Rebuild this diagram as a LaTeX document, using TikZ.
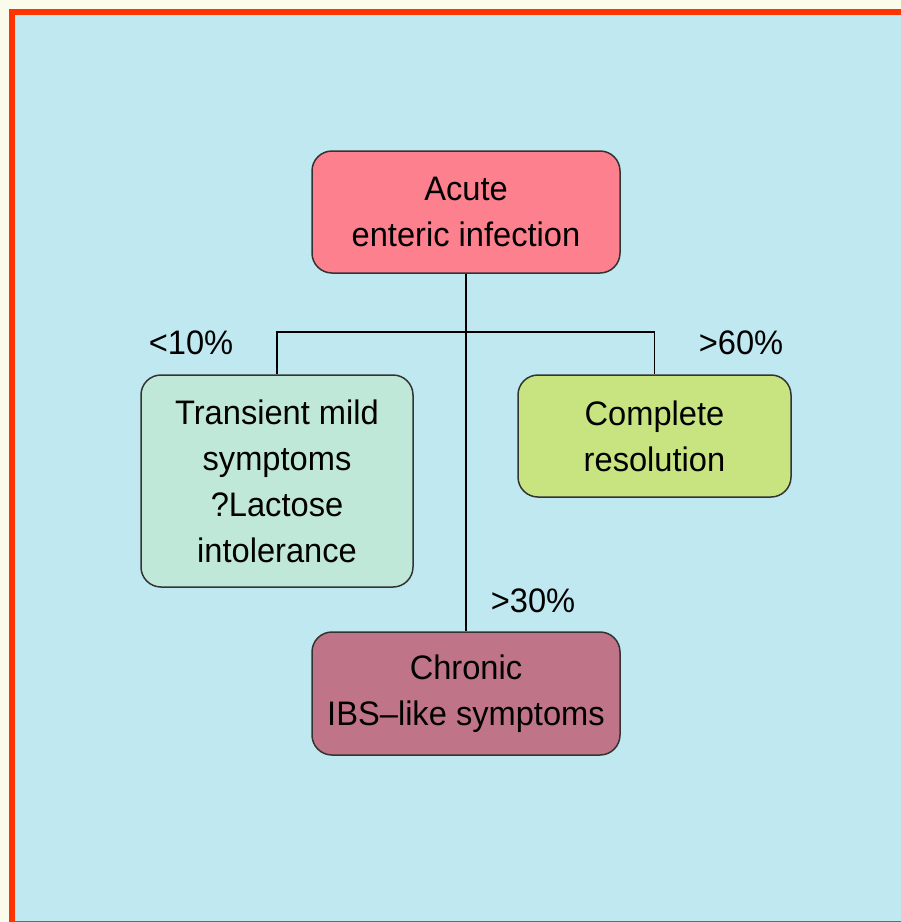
\documentclass[tikz,border=0pt]{standalone}
\usepackage{fontspec}
\setmainfont{Liberation Sans}[FakeStretch=0.96]
\definecolor{cream}{HTML}{FAFBEA}
\definecolor{frame}{HTML}{FF3300}
\definecolor{bgblue}{HTML}{C0E8F0}
\definecolor{fpink}{HTML}{FC808E}
\definecolor{fmint}{HTML}{C0E8D8}
\definecolor{flime}{HTML}{C8E480}
\definecolor{fmauve}{HTML}{C07488}
\definecolor{edge}{HTML}{333333}
\begin{document}
\begin{tikzpicture}[x=1pt,y=-1pt,
  box/.style={draw=edge,line width=1.5pt,rounded corners=20pt,align=center,
    font=\fontsize{34}{46}\selectfont,inner sep=0pt},
  pct/.style={font=\fontsize{34}{46}\selectfont,inner sep=0pt},
  conn/.style={draw=black,line width=1.8pt}]
\useasboundingbox (0,0) rectangle (901,922);
\fill[cream] (0,0) rectangle (901,922);
\fill[bgblue] (11.5,11.5) rectangle (960,930);
\draw[frame,line width=6pt] (11.5,11.5) rectangle (960,923.5);
\node[box,fill=fpink,minimum width=308pt,minimum height=122pt] (acute) at (466,212) {Acute\\enteric infection};
\node[box,fill=fmint,minimum width=272pt,minimum height=212pt] (trans) at (277,481) {Transient mild\\symptoms\\?Lactose\\intolerance};
\node[box,fill=flime,minimum width=273pt,minimum height=122pt] (comp) at (654.5,436) {Complete\\resolution};
\node[box,fill=fmauve,minimum width=308pt,minimum height=123pt] (chron) at (466,693.5) {Chronic\\IBS–like symptoms};
\coordinate (j) at (466,332);
\draw[conn] (acute.south) -- (chron.north);
\draw[conn] (trans.north) |- (j) -| (comp.north);
\node[pct] (p10) at (191,343) {<10\%};
\node[pct] (p60) at (741,343) {>60\%};
\node[pct] (p30) at (533,601) {>30\%};
\end{tikzpicture}
\end{document}
